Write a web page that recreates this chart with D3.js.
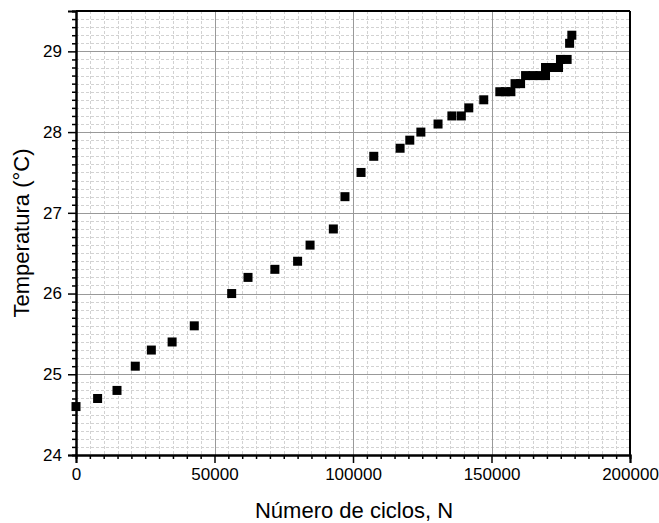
<!DOCTYPE html>
<html>
<head>
<meta charset="utf-8">
<script src="https://cdn.jsdelivr.net/npm/d3@7"></script>
<style>
  html, body { margin: 0; padding: 0; background: #fff; }
  svg { display: block; font-family: "Liberation Sans", Arial, sans-serif; }
</style>
</head>
<body>
<svg id="chart" width="659" height="523"></svg>
<script>
// ---- data ----
const cycles = [0, 7800, 14800, 21400, 27200, 34700, 42700, 56200, 62100, 71800,
  80000, 84500, 92900, 97100, 102900, 107500, 117000, 120500, 124500, 130700,
  135700, 139100, 141800, 147200, 153000, 155000, 157000, 158500, 160500,
  162300, 165000, 167500, 169500, 169500, 172000, 174200, 174900, 177300,
  178200, 179000];
const temps = [24.6, 24.7, 24.8, 25.1, 25.3, 25.4, 25.6, 26.0, 26.2, 26.3,
  26.4, 26.6, 26.8, 27.2, 27.5, 27.7, 27.8, 27.9, 28.0, 28.1,
  28.2, 28.2, 28.3, 28.4, 28.5, 28.5, 28.5, 28.6, 28.6,
  28.7, 28.7, 28.7, 28.7, 28.8, 28.8, 28.8, 28.9, 28.9,
  29.1, 29.2];
const xTicks = [0, 50000, 100000, 150000, 200000];
const yTicks = [24, 25, 26, 27, 28, 29];
const xTitle = "Número de ciclos, N";
const yTitle = "Temperatura (°C)";

// ---- layout ----
const svg = d3.select("#chart");
const L = 76, R = 630, T = 11, B = 455;
const x = d3.scaleLinear().domain([0, 200000]).range([L, R]);
const y = d3.scaleLinear().domain([24, 29.5]).range([B, T]);

const xMinor = d3.range(0, 200001, 5000);
const yMinor = d3.range(240, 296, 1).map(v => v / 10);

// minor grid
const g = svg.append("g");
g.selectAll(".mx").data(xMinor.filter(v => v % 50000 !== 0)).join("line")
  .attr("x1", d => Math.round(x(d)) + 0.5).attr("x2", d => Math.round(x(d)) + 0.5)
  .attr("y1", T).attr("y2", B)
  .attr("stroke", "#d2d2d2").attr("stroke-width", 1).attr("stroke-dasharray", "3,2");
g.selectAll(".my").data(yMinor.filter(v => Math.abs(v - Math.round(v)) > 1e-6)).join("line")
  .attr("y1", d => Math.round(y(d)) + 0.5).attr("y2", d => Math.round(y(d)) + 0.5)
  .attr("x1", L).attr("x2", R)
  .attr("stroke", "#d2d2d2").attr("stroke-width", 1).attr("stroke-dasharray", "3,2");
// major grid
g.selectAll(".Mx").data(xTicks.slice(1, -1)).join("line")
  .attr("x1", d => Math.round(x(d)) + 0.5).attr("x2", d => Math.round(x(d)) + 0.5)
  .attr("y1", T).attr("y2", B).attr("stroke", "#999").attr("stroke-width", 1);
g.selectAll(".My").data(yTicks.slice(1)).join("line")
  .attr("y1", d => Math.round(y(d)) + 0.5).attr("y2", d => Math.round(y(d)) + 0.5)
  .attr("x1", L).attr("x2", R).attr("stroke", "#999").attr("stroke-width", 1);

// frame (top, right)
svg.append("line").attr("x1", L).attr("x2", R).attr("y1", T).attr("y2", T)
  .attr("stroke", "#000").attr("stroke-width", 2);
svg.append("line").attr("x1", R).attr("x2", R).attr("y1", T).attr("y2", B)
  .attr("stroke", "#000").attr("stroke-width", 2);

// axes
const fs = 17;
const xAxis = svg.append("g").attr("transform", `translate(0,${B})`)
  .call(d3.axisBottom(x).tickValues(xTicks).tickFormat(d3.format("d")).tickSize(8).tickPadding(5));
const xAxisMinor = svg.append("g").attr("transform", `translate(0,${B})`)
  .call(d3.axisBottom(x).tickValues(xMinor.filter(v => v % 50000 !== 0)).tickFormat("").tickSize(4));
const yAxis = svg.append("g").attr("transform", `translate(${L},0)`)
  .call(d3.axisLeft(y).tickValues(yTicks).tickFormat(d3.format("d")).tickSize(8).tickPadding(6));
const yAxisMinor = svg.append("g").attr("transform", `translate(${L},0)`)
  .call(d3.axisLeft(y).tickValues(yMinor.filter(v => Math.abs(v - Math.round(v)) > 1e-6)).tickFormat("").tickSize(4));
[xAxis, xAxisMinor, yAxis, yAxisMinor].forEach(a => {
  a.select(".domain").attr("stroke", "#000").attr("stroke-width", 2);
  a.selectAll(".tick line").attr("stroke", "#000").attr("stroke-width", 1.5);
  a.selectAll("text").attr("font-size", fs).attr("fill", "#000")
    .attr("font-family", "'Liberation Sans', Arial, sans-serif");
});

// points
const data = cycles.map((c, i) => ({ c, t: temps[i] }));
const s = 9;
svg.append("g").selectAll("rect").data(data).join("rect")
  .attr("x", d => x(d.c) - s / 2).attr("y", d => y(d.t) - s / 2)
  .attr("width", s).attr("height", s).attr("fill", "#000");

// titles
svg.append("text").attr("x", (L + R) / 2 + 1).attr("y", 518)
  .attr("text-anchor", "middle").attr("font-size", 22).attr("fill", "#000")
  .text(xTitle);
svg.append("text").attr("transform", `translate(29,${(T + B) / 2}) rotate(-90)`)
  .attr("text-anchor", "middle").attr("font-size", 22).attr("fill", "#000")
  .text(yTitle);
</script>
</body>
</html>
